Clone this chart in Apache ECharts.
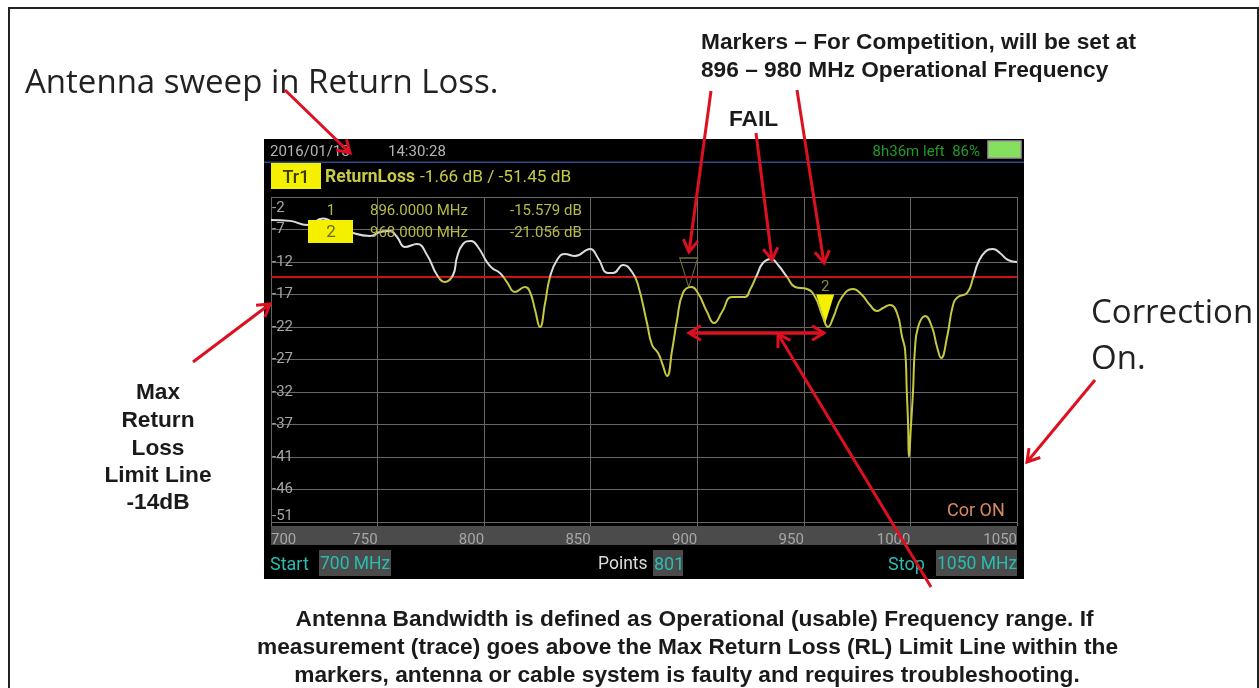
<!DOCTYPE html>
<html>
<head>
<meta charset="utf-8">
<title>Antenna sweep in Return Loss</title>
<script src="https://cdn.jsdelivr.net/npm/echarts@6/dist/echarts.min.js"></script>
<style>
  html, body { margin: 0; padding: 0; background: #fff; }
  #main { width: 1259px; height: 688px; filter: blur(0.5px); }
</style>
</head>
<body>
<div id="main"></div>
<script>
// trace: MHz / dB
var freqs = [700, 708.9, 716.9, 724.4, 731.4, 738.5, 746.4, 751.1, 755.8, 759.1, 762.9, 768.5, 773.2, 777.9, 781.6, 785.4,
  787.3, 790.1, 793.8, 797.1, 801.3, 803.7, 807.4, 810.7, 814.5, 819.2, 821.5, 823.9, 826.2, 828.6, 830.9, 834.2,
  837.9, 842.6, 849.7, 853.4, 858.1, 860.5, 865.2, 869.4, 872.2, 876.4, 878.8, 881.6, 883.5, 885.8, 888.2, 890.5,
  893.3, 897.1, 900.3, 904.6, 907.9, 911.6, 916.3, 922.4, 924.7, 928, 930.8, 934.6, 937.9, 942.1, 945.9, 951.5,
  955.3, 958.6, 961.4, 963.7, 967.9, 973.1, 977.3, 981, 984.3, 987.1, 990.4, 993.7, 996.1, 997.5, 998.3, 998.9,
  999.3, 1000.3, 1001.2, 1002.1, 1003.6, 1006.9, 1010.1, 1012.5, 1014.4, 1017.2, 1020, 1022.3, 1026.6, 1029.4,
  1031.7, 1035, 1038.7, 1042, 1045.8, 1050];
var returnLoss = [-5.47, -5.6, -6.22, -5.24, -6.4, -7.43, -7.88, -7.28, -7.13, -8.03, -9.54, -9.09, -10.74, -13.76, -14.82, -13.76,
  -11.05, -9.09, -8.63, -9.54, -11.8, -12.7, -13.46, -14.82, -16.32, -15.57, -16.32, -19.04, -21.6, -17.98, -14.06, -11.5,
  -10.59, -10.9, -9.84, -11.2, -13.46, -13.46, -12.25, -13.31, -15.27, -21, -24.31, -25.52, -27.03, -28.99, -25.07, -20.55,
  -16.47, -15.57, -16.47, -19.34, -21, -19.34, -17.08, -17.08, -16.02, -13.76, -11.95, -11.35, -12.25, -14.06, -15.57, -15.87,
  -17.08, -19.79, -21.6, -20.24, -17.08, -15.87, -16.78, -18.28, -19.19, -18.74, -18.28, -19.49, -23.11, -25.07, -31.4, -36.2,
  -41.2, -36.2, -31.4, -25.07, -21.6, -19.94, -21.6, -24.62, -26.27, -23.11, -18.28, -17.08, -16.47, -14.21,
  -11.95, -10.29, -9.84, -10.44, -11.5, -11.8];

var limitDb = -14;
var markerFreqs = [896, 960];
var markerDb = [-15.579, -21.056];
var markerNames = ['', '2'];

var yTicks = [-51, -46.1, -41.2, -36.3, -31.4, -26.5, -21.6, -16.7, -11.8, -6.9, -2];
var yTickLabels = ['-51', '-46', '-41', '-37', '-32', '-27', '-22', '-17', '-12', '-7', '-2'];
var xTicks = [700, 750, 800, 850, 900, 950, 1000, 1050];

var RED = '#dd1020';
var SCREEN = 'Roboto, sans-serif';
var SLIDE = '"Open Sans", sans-serif';
var BOLD = '"Liberation Sans", Arial, sans-serif';

function txt(x, y, s, size, color, font, extra) {
  var style = { x: x, y: y + 1, text: s, fontSize: size, fill: color, fontFamily: font, verticalAlign: 'middle' };
  for (var k in (extra || {})) style[k] = extra[k];
  return { type: 'text', z: 50, style: style, silent: true };
}

function bold(x, y, s, align) {
  return txt(x, y + 0.5, s, 22.7, '#1a1a1a', BOLD, { fontWeight: 'bold', align: align || 'left' });
}

function box(x, y, w, h, color, z) {
  return { type: 'rect', z: z, shape: { x: x, y: y, width: w, height: h }, style: { fill: color }, silent: true };
}

function arrow(x1, y1, x2, y2) {
  var a = Math.atan2(y2 - y1, x2 - x1), len = 14, spread = 0.55;
  var head = [
    [x2 - len * Math.cos(a - spread), y2 - len * Math.sin(a - spread)],
    [x2, y2],
    [x2 - len * Math.cos(a + spread), y2 - len * Math.sin(a + spread)]
  ];
  return [
    { type: 'line', z: 100, shape: { x1: x1, y1: y1, x2: x2, y2: y2 }, style: { stroke: RED, lineWidth: 3 }, silent: true },
    { type: 'polyline', z: 100, shape: { points: head }, style: { stroke: RED, fill: 'none', lineWidth: 3 }, silent: true }
  ];
}

var panel = [
  // slide frame
  { type: 'polyline', z: -10, shape: { points: [[9, 688], [9, 8], [1258, 8], [1258, 688]] }, style: { stroke: '#222', fill: 'none', lineWidth: 2 }, silent: true },
  // instrument screen
  box(264, 139, 760, 440, '#000', -5),
  box(264, 161.5, 760, 1.5, '#2c4a8c', -4),
  box(271, 526, 746, 19, '#4b4b4b', -4),
  box(319, 550, 72, 26, '#4b4b4b', -4),
  box(653, 550, 30, 26, '#4b4b4b', -4),
  box(936, 550, 81, 26, '#4b4b4b', -4),
  box(271, 163, 50, 26, '#f4f000', -4),
  { type: 'rect', z: 50, shape: { x: 988, y: 141, width: 33, height: 17 }, style: { fill: '#86e060', stroke: '#999', lineWidth: 1.5 }, silent: true },
  box(308, 220, 45, 23, '#f4f000', 40),

  txt(270, 151, '2016/01/13', 15, '#b4b4b4', SCREEN),
  txt(388, 151, '14:30:28', 15, '#b4b4b4', SCREEN),
  txt(980, 151, '8h36m left  86%', 15, '#1f9a2a', SCREEN, { align: 'right' }),
  txt(296, 177, 'Tr1', 18, '#3a3a00', SCREEN, { align: 'center', fontWeight: 500 }),
  txt(325, 177, 'ReturnLoss', 17.5, '#c8cb45', SCREEN, { fontWeight: 'bold' }),
  txt(420, 177, '-1.66 dB / -51.45 dB', 17.2, '#c8cb45', SCREEN),
  txt(331, 210, '1', 15, '#b8ba45', SCREEN, { align: 'center' }),
  txt(331, 232, '2', 17, '#6a6a10', SCREEN, { align: 'center' }),
  txt(370, 210, '896.0000 MHz', 15, '#b8ba45', SCREEN),
  txt(370, 232, '968.0000 MHz', 15, '#b8ba45', SCREEN),
  txt(510, 210, '-15.579 dB', 15, '#b8ba45', SCREEN),
  txt(510, 232, '-21.056 dB', 15, '#b8ba45', SCREEN),
  txt(947, 510, 'Cor ON', 18, '#d88a60', SCREEN),
  txt(270, 564, 'Start', 18, '#28bdb0', SCREEN),
  txt(320, 564, '700 MHz', 17.5, '#28bdb0', SCREEN),
  txt(598, 564, 'Points', 17.5, '#dcdcdc', SCREEN),
  txt(654, 564, '801', 18, '#28bdb0', SCREEN),
  txt(888, 564, 'Stop', 18, '#28bdb0', SCREEN),
  txt(937, 564, '1050 MHz', 17.5, '#28bdb0', SCREEN),

  // slide annotations
  txt(25, 83, 'Antenna sweep in Return Loss.', 33, '#222', SLIDE),
  txt(1091, 313, 'Correction', 33, '#222', SLIDE),
  txt(1091, 359, 'On.', 33, '#222', SLIDE),
  bold(701, 41, 'Markers \u2013 For Competition, will be set at'),
  bold(701, 69, '896 \u2013 980 MHz Operational Frequency'),
  bold(729, 118, 'FAIL'),
  bold(158, 391, 'Max', 'center'),
  bold(158, 419, 'Return', 'center'),
  bold(158, 447, 'Loss', 'center'),
  bold(158, 474, 'Limit Line', 'center'),
  bold(158, 501, '-14dB', 'center'),
  bold(694.5, 618, 'Antenna Bandwidth is defined as Operational (usable) Frequency range. If', 'center'),
  bold(687.5, 646, 'measurement (trace) goes above the Max Return Loss (RL) Limit Line within the', 'center'),
  bold(687, 674, 'markers, antenna or cable system is faulty and requires troubleshooting.', 'center')
];

var arrows = [].concat(
  arrow(285, 90, 350, 153),
  arrow(711, 91, 689, 252),
  arrow(756, 133, 772, 260),
  arrow(797, 90, 824, 263),
  arrow(824, 333, 689, 333),
  arrow(689, 333, 824, 333),
  arrow(931, 587, 778, 334),
  arrow(193, 362, 270, 304),
  arrow(1095, 380, 1027, 462)
);

var trace = freqs.map(function (f, i) { return [f, returnLoss[i]]; });
var markers = markerFreqs.map(function (f, i) {
  return {
    value: [f, markerDb[i]],
    name: markerNames[i],
    itemStyle: i === 0
      ? { color: 'rgba(0,0,0,0)', borderColor: '#75703a', borderWidth: 1.2, opacity: 1 }
      : { color: '#f4f000', opacity: 1 }
  };
});

var edgeLabel = { color: '#a6a6a6', fontFamily: SCREEN, fontSize: 15 };

var myChart = echarts.init(document.getElementById('main'));
myChart.setOption({
  animation: false,
  backgroundColor: '#fff',
  graphic: { elements: panel.concat(arrows) },
  grid: { left: 271, top: 197, width: 746, height: 325, containLabel: false },
  xAxis: {
    type: 'value',
    min: 700,
    max: 1050,
    interval: 50,
    axisLine: { show: false },
    axisTick: { show: true, length: 4, lineStyle: { color: '#6a6a6a' } },
    splitLine: { show: true, lineStyle: { color: '#666', width: 1 } },
    axisLabel: {
      color: '#a6a6a6',
      fontFamily: SCREEN,
      fontSize: 15,
      margin: 11,
      align: 'right',
      alignMinLabel: 'left',
      formatter: function (v) { return xTicks.indexOf(v) >= 0 ? String(v) : ''; }
    }
  },
  yAxis: {
    type: 'value',
    min: -51,
    max: -2,
    axisLine: { show: false },
    axisTick: { show: false, customValues: yTicks },
    splitLine: { show: true, lineStyle: { color: '#666', width: 1 } },
    axisLabel: {
      inside: true,
      customValues: yTicks,
      color: '#a6a6a6',
      fontFamily: SCREEN,
      fontSize: 15,
      margin: 1,
      // the top and bottom labels sit inside the plot, off their grid lines
      rich: {
        first: Object.assign({ padding: [0, 0, 12, 0] }, edgeLabel),
        last: Object.assign({ padding: [22, 0, 0, 0] }, edgeLabel)
      },
      formatter: function (v) {
        var s = yTickLabels[yTicks.indexOf(v)];
        if (v === yTicks[0]) return '{first|' + s + '}';
        if (v === yTicks[yTicks.length - 1]) return '{last|' + s + '}';
        return s;
      }
    }
  },
  visualMap: {
    show: false,
    seriesIndex: 0,
    dimension: 1,
    pieces: [
      { min: limitDb, max: 0, color: '#dcdcdc' },
      { min: -60, max: limitDb, color: '#c6c93e' }
    ]
  },
  series: [
    {
      type: 'line',
      data: trace,
      smooth: 0.5,
      showSymbol: false,
      lineStyle: { width: 2 },
      z: 5,
      markLine: {
        silent: true,
        symbol: 'none',
        label: { show: false },
        lineStyle: { color: '#d01018', width: 2, type: 'solid' },
        data: [{ yAxis: limitDb }]
      }
    },
    {
      type: 'scatter',
      data: markers,
      symbol: 'triangle',
      symbolSize: [18, 29],
      symbolRotate: 180,
      symbolOffset: [0, -14.5],
      z: 4,
      label: {
        show: true,
        position: 'top',
        distance: 0,
        color: '#8a8a4a',
        fontFamily: SCREEN,
        fontSize: 15,
        formatter: '{b}'
      }
    }
  ]
});
</script>
</body>
</html>
